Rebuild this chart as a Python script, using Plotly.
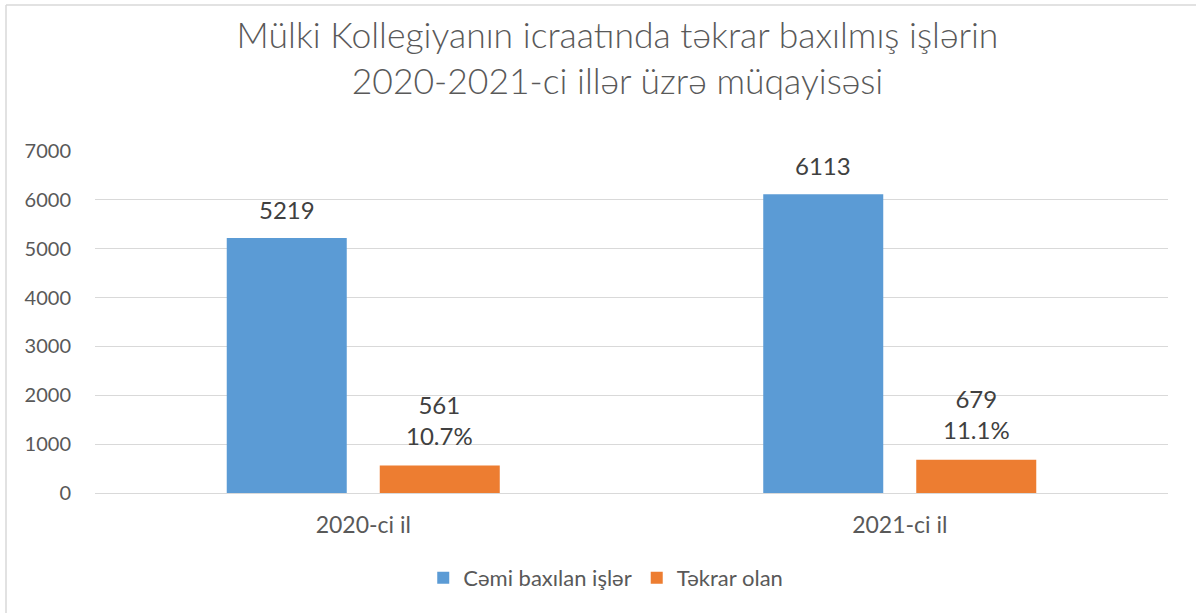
import plotly.graph_objects as go

categories = ["2020-ci il", "2021-ci il"]
series_names = ["Cəmi baxılan işlər", "Təkrar olan"]
total_cases = [5219, 6113]
repeat_cases = [561, 679]
repeat_pct = ["10.7%", "11.1%"]
y_ticks = [0, 1000, 2000, 3000, 4000, 5000, 6000, 7000]

blue = "#5B9BD5"
orange = "#ED7D31"
txt = "#595959"
lbl = "#404040"
FONT = "Lato"

fig = go.Figure()
fig.add_trace(go.Bar(name=series_names[0], x=categories, y=total_cases,
                     marker=dict(color=blue, line=dict(width=0))))
fig.add_trace(go.Bar(name=series_names[1], x=categories, y=repeat_cases,
                     marker=dict(color=orange, line=dict(width=0))))

annotations = []
for c, v in zip(categories, total_cases):
    annotations.append(dict(x=c, y=v, xref="x", yref="y", text=str(v), showarrow=False,
                            xshift=-76.5, yshift=12, yanchor="bottom",
                            font=dict(family=FONT, size=24, color=lbl)))
for c, v, p in zip(categories, repeat_cases, repeat_pct):
    annotations.append(dict(x=c, y=v, xref="x", yref="y", text=f"{v}<br>{p}", showarrow=False,
                            xshift=76.5, yshift=14, yanchor="bottom",
                            font=dict(family=FONT, size=24, color=lbl)))

fig.update_layout(
    width=1196, height=613,
    margin=dict(l=95, r=28, t=151, b=120),
    paper_bgcolor="white", plot_bgcolor="white",
    barmode="group", bargap=0.4296, bargroupgap=0.2157,
    title=dict(text="Mülki Kollegiyanın icraatında təkrar baxılmış işlərin<br>2020-2021-ci illər üzrə müqayisəsi",
               x=617.5 / 1196, xanchor="center", y=1 - 48 / 613, yanchor="middle", yref="container",
               xref="container",
               font=dict(family=FONT, size=35.5, color=txt, weight=300)),
    font=dict(family=FONT, color=txt),
    legend=dict(orientation="h", x=0.476, xanchor="center", y=-0.2485, yanchor="middle",
                font=dict(family=FONT, size=22, color=txt), traceorder="normal",
                itemsizing="constant"),
    xaxis=dict(showgrid=False, showline=True, linecolor="#D9D9D9", linewidth=1,
               ticks="", tickfont=dict(family=FONT, size=23, color=txt),
               ticklabelstandoff=11),
    yaxis=dict(range=[0, 7000], tickvals=y_ticks, showgrid=True, gridcolor="#D9D9D9",
               gridwidth=1, zeroline=False, showline=False, ticks="",
               tickfont=dict(family=FONT, size=20, color=txt), ticklabelstandoff=23),
    annotations=annotations,
    shapes=[
        dict(type="line", xref="paper", yref="paper", x0=(6 - 95) / 1073, x1=(6 - 95) / 1073,
             y0=(493 - 5) / 342, y1=(493 - 620) / 342, line=dict(color="#D9D9D9", width=1.5)),
        dict(type="line", xref="paper", yref="paper", x0=(6 - 95) / 1073, x1=(1200 - 95) / 1073,
             y0=(493 - 5) / 342, y1=(493 - 5) / 342, line=dict(color="#D9D9D9", width=1.5)),
    ],
)

fig.write_html("out.html", config={"displayModeBar": False},
               post_script="document.body.style.margin='0';document.body.style.overflow='hidden';")
